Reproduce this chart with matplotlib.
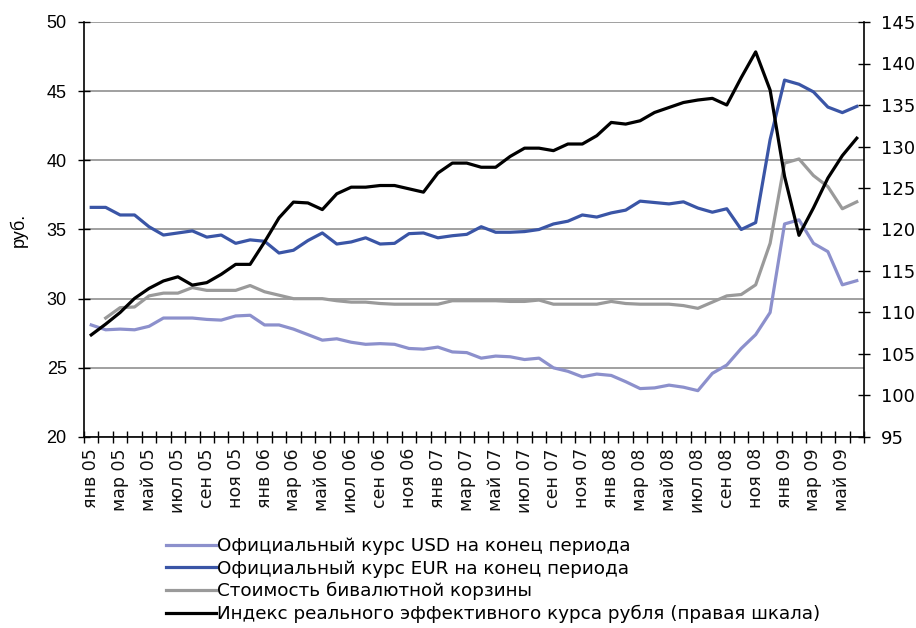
import numpy as np
import matplotlib
matplotlib.use("Agg")
import matplotlib.pyplot as plt

# month labels (every month Jan 05 .. Jun 09), labels shown every 2nd month
mon = ["янв", "фев", "мар", "апр", "май", "июн", "июл", "авг", "сен", "окт", "ноя", "дек"]
months = [f"{mon[m]} {y:02d}" for y in range(5, 10) for m in range(12)][:54]

usd = [28.1, 27.75, 27.8, 27.75, 28.0, 28.6, 28.6, 28.6, 28.5, 28.45, 28.75, 28.8,
       28.1, 28.1, 27.8, 27.4, 27.0, 27.1, 26.85, 26.7, 26.75, 26.7, 26.4, 26.35,
       26.5, 26.15, 26.1, 25.7, 25.85, 25.8, 25.6, 25.7, 25.0, 24.75, 24.35, 24.55,
       24.45, 24.0, 23.5, 23.55, 23.75, 23.6, 23.35, 24.6, 25.2, 26.4, 27.4, 29.0,
       35.4, 35.7, 34.0, 33.4, 31.0, 31.3]

eur = [36.6, 36.6, 36.05, 36.05, 35.2, 34.6, 34.75, 34.9, 34.45, 34.6, 34.0, 34.25,
       34.15, 33.3, 33.5, 34.2, 34.75, 33.95, 34.1, 34.4, 33.95, 34.0, 34.7, 34.75,
       34.4, 34.55, 34.65, 35.2, 34.8, 34.8, 34.85, 35.0, 35.4, 35.6, 36.05, 35.9,
       36.2, 36.4, 37.05, 36.95, 36.85, 37.0, 36.55, 36.25, 36.5, 35.0, 35.5, 41.5,
       45.8, 45.5, 44.95, 43.85, 43.45, 43.9]

# basket starts in Feb 05
basket = [np.nan, 28.6, 29.35, 29.4, 30.2, 30.4, 30.4, 30.8, 30.6, 30.6, 30.6, 30.95,
          30.5, 30.25, 30.0, 30.0, 30.0, 29.85, 29.75, 29.75, 29.65, 29.6, 29.6, 29.6,
          29.6, 29.85, 29.85, 29.85, 29.85, 29.8, 29.8, 29.9, 29.6, 29.6, 29.6, 29.6,
          29.8, 29.65, 29.6, 29.6, 29.6, 29.5, 29.3, 29.75, 30.2, 30.3, 31.0, 34.0,
          39.8, 40.1, 38.9, 38.1, 36.5, 37.0]

reer = [107.3, 108.6, 110.0, 111.7, 112.9, 113.8, 114.3, 113.3, 113.6, 114.6, 115.8, 115.8,
        118.5, 121.4, 123.3, 123.2, 122.4, 124.3, 125.1, 125.1, 125.3, 125.3, 124.9, 124.5,
        126.8, 128.0, 128.0, 127.5, 127.5, 128.8, 129.8, 129.8, 129.5, 130.3, 130.3, 131.3,
        132.9, 132.7, 133.1, 134.1, 134.7, 135.3, 135.6, 135.8, 135.0, 138.3, 141.4, 136.8,
        126.4, 119.3, 122.6, 126.2, 128.9, 131.0]

labels = ["Официальный курс USD на конец периода",
          "Официальный курс EUR на конец периода",
          "Стоимость бивалютной корзины",
          "Индекс реального эффективного курса рубля (правая шкала)"]
colors = ["#8C90CC", "#3A55A6", "#9A9A9A", "#000000"]

W, H = 916, 628
fig = plt.figure(figsize=(W / 100, H / 100), dpi=100)
ax = fig.add_axes([84 / W, 1 - 437 / H, 780 / W, 415 / H])
ax2 = ax.twinx()

x = np.arange(len(months))
l1, = ax.plot(x, usd, color=colors[0], lw=2.3, solid_joinstyle="round")
l2, = ax.plot(x, eur, color=colors[1], lw=2.3, solid_joinstyle="round")
l3, = ax.plot(x, basket, color=colors[2], lw=2.3, solid_joinstyle="round")
l4, = ax2.plot(x, reer, color=colors[3], lw=2.3, solid_joinstyle="round")

ax.set_xlim(-0.5, len(months) - 0.5)
ax.set_ylim(20, 50)
ax2.set_ylim(95, 145)
ax.set_yticks(np.arange(20, 51, 5))
ax2.set_yticks(np.arange(95, 146, 5))
ax.yaxis.grid(True, color="#999999", lw=1.3)
ax.set_axisbelow(True)

# month boundary ticks, labels every second month
ax.set_xticks(np.arange(-0.5, len(months), 1))
ax.set_xticklabels([])
ax.set_xticks(x[::2], minor=True)
ax.set_xticklabels(months[::2], minor=True, rotation=90, fontsize=12.5,
                   family="DejaVu Sans", color="#111111")
ax.tick_params(axis="x", which="minor", length=0, pad=8)
ax.tick_params(axis="x", which="major", direction="inout", length=9, width=1)

for s in ["top", "right"]:
    ax.spines[s].set_visible(False)
for s in ["top", "left", "bottom"]:
    ax2.spines[s].set_visible(False)
ax.spines["left"].set_linewidth(1.2)
ax.spines["bottom"].set_linewidth(1.2)
ax2.spines["right"].set_linewidth(1.2)

ax.tick_params(axis="y", direction="inout", length=9, width=1, labelsize=13, pad=8)
for t in ax.get_yticklabels():
    t.set_family("Liberation Sans")
ax2.tick_params(axis="y", direction="inout", length=9, width=1, labelsize=13, pad=8)
for t in ax2.get_yticklabels():
    t.set_family("DejaVu Sans")

ax.set_ylabel("руб.", fontsize=13, family="Liberation Sans")
ax.yaxis.set_label_coords(-0.072, 0.5)

fig.legend([l1, l2, l3, l4], labels, loc="upper left",
           bbox_to_anchor=(166 / W, 1 - 537 / H), frameon=False,
           prop={"family": "DejaVu Sans", "size": 13.2},
           handlelength=2.75, handletextpad=0.05, labelspacing=0.25,
           borderaxespad=0, borderpad=0)

fig.savefig("out.png", dpi=100)
